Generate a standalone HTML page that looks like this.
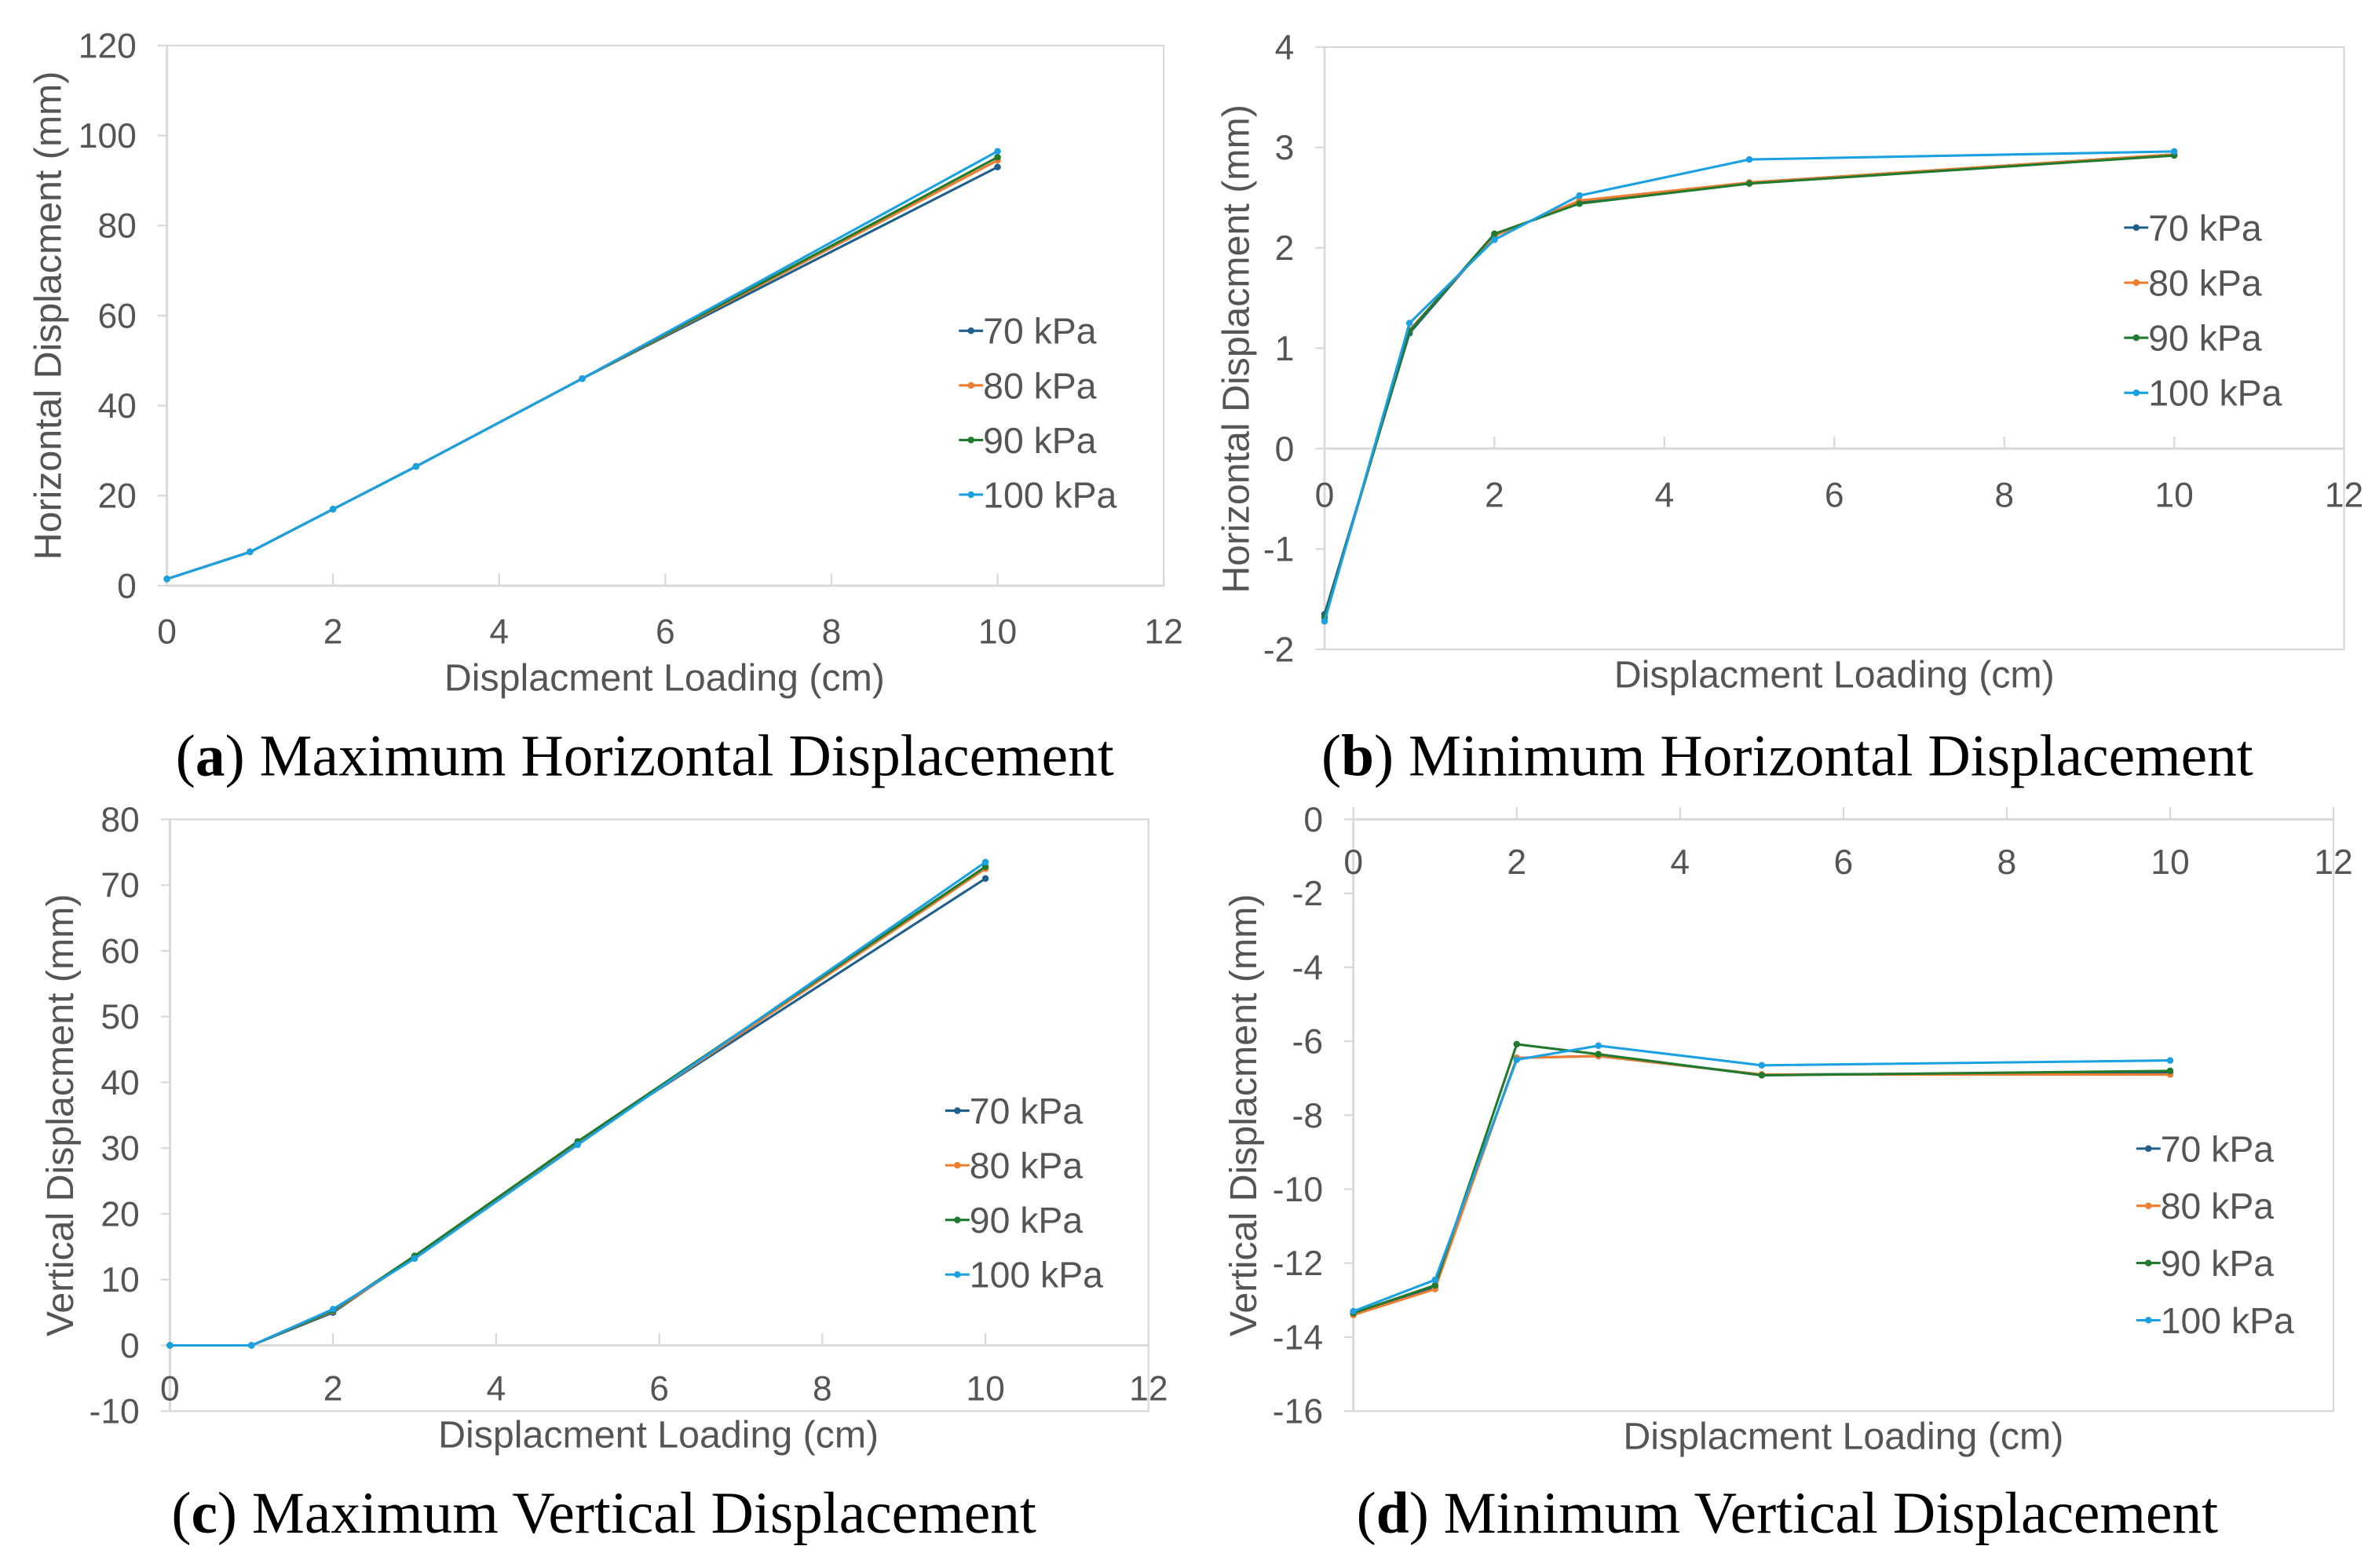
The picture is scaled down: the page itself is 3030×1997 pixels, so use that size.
<!DOCTYPE html>
<html><head><meta charset="utf-8"><style>
html,body{margin:0;padding:0;background:#fff}
svg{display:block}
.tk{font-family:"Liberation Sans",sans-serif;font-size:23px;fill:#555}
.at{font-family:"Liberation Sans",sans-serif;font-size:25px;fill:#555}
.lg{font-family:"Liberation Sans",sans-serif;font-size:24px;fill:#555}
.cap{font-family:"Liberation Serif",serif;font-size:39px;fill:#000}
</style></head><body>
<svg id="fig" width="3030" height="1997" viewBox="0 0 1568 1033.4" preserveAspectRatio="none" xmlns="http://www.w3.org/2000/svg"></svg>
<script>
const xValues=[0,1,2,3,5,10];
const seriesNames=["70 kPa","80 kPa","90 kPa","100 kPa"];
const colors=["#1f5f8b","#ed7d31","#217a2e","#1ba1e2"];
const aVals70=[1.5,7.5,17,26.5,46,93];
const aVals80=[1.5,7.5,17,26.5,46,94.5];
const aVals90=[1.5,7.5,17,26.5,46,95.2];
const aVals100=[1.5,7.5,17,26.5,46,96.5];
const bVals70=[-1.65,1.15,2.13,2.45,2.65,2.93];
const bVals80=[-1.7,1.18,2.12,2.47,2.65,2.93];
const bVals90=[-1.68,1.17,2.14,2.44,2.64,2.92];
const bVals100=[-1.72,1.25,2.08,2.52,2.88,2.96];
const cVals70=[0,0,5,13.5,31,71];
const cVals80=[0,0,5.2,13.3,30.7,72.5];
const cVals90=[0,0,5.3,13.6,31,72.8];
const cVals100=[0,0,5.5,13.2,30.5,73.5];
const dVals70=[-13.35,-12.65,-6.45,-6.4,-6.9,-6.85];
const dVals80=[-13.4,-12.7,-6.45,-6.4,-6.9,-6.9];
const dVals90=[-13.35,-12.6,-6.08,-6.35,-6.92,-6.8];
const dVals100=[-13.3,-12.45,-6.5,-6.12,-6.65,-6.52];
const xTicks=[0,2,4,6,8,10,12];
const aTicks=[0,20,40,60,80,100,120];
const bTicks=[-2,-1,0,1,2,3,4];
const cTicks=[-10,0,10,20,30,40,50,60,70,80];
const dTicks=[0,-2,-4,-6,-8,-10,-12,-14,-16];

const NS="http://www.w3.org/2000/svg";
const svg=document.getElementById('fig');
function mk(tag,attrs,parent,text){const e=document.createElementNS(NS,tag);for(const k in attrs)e.setAttribute(k,attrs[k]);if(text!==undefined)e.textContent=text;(parent||svg).appendChild(e);return e;}

const charts=[
 {id:'a',x0:110,x1:767,yt:30,yb:386,ymin:0,ymax:120,yticks:aTicks,data:[aVals70,aVals80,aVals90,aVals100],xlabY:416,xtitle:[438,447],ytitle:[32,208,"Horizontal Displacment (mm)"],leg:[632,218,36],cap:[425,498,"a","Maximum Horizontal Displacement"]},
 {id:'b',x0:873,x1:1545,yt:31,yb:428,ymin:-2,ymax:4,yticks:bTicks,data:[bVals70,bVals80,bVals90,bVals100],xlabY:326,xtitle:[1209,445],ytitle:[815,230,"Horizontal Displacment (mm)"],leg:[1400,150,36.3],cap:[1178,498,"b","Minimum Horizontal Displacement"]},
 {id:'c',x0:112,x1:757,yt:540,yb:930,ymin:-10,ymax:80,yticks:cTicks,data:[cVals70,cVals80,cVals90,cVals100],xlabY:915,xtitle:[434,946],ytitle:[40,735,"Vertical Displacment (mm)"],leg:[623,732,36],cap:[398,997,"c","Maximum Vertical Displacement"]},
 {id:'d',x0:892,x1:1538,yt:540,yb:930,ymin:-16,ymax:0,yticks:dTicks,data:[dVals70,dVals80,dVals90,dVals100],xlabY:568,xtitle:[1215,947],ytitle:[820,735,"Vertical Displacment (mm)"],leg:[1408,757,37.7],cap:[1178,997,"d","Minimum Vertical Displacement"]}
];

charts.forEach(c=>{
 const g=mk('g',{});
 
 
 const sx=v=>c.x0+(v-0)/(12-0)*(c.x1-c.x0);
 const sy=v=>c.yb-(v-c.ymin)/(c.ymax-c.ymin)*(c.yb-c.yt);
 const zeroY=(c.ymin<0&&c.ymax>0)?sy(0):(c.ymax<=0?sy(0):c.yb);
 const r=mk('rect',{x:c.x0,y:c.yt,width:c.x1-c.x0,height:c.yb-c.yt,fill:'none',stroke:'#d9d9d9','stroke-width':1.2},g);
 
 const xa=mk('line',{x1:c.x0,x2:c.x1,y1:zeroY,y2:zeroY,stroke:'#d9d9d9','stroke-width':1.5},g);
 
 const ya=mk('line',{x1:c.x0,x2:c.x0,y1:c.yt,y2:c.yb,stroke:'#d9d9d9','stroke-width':1.5},g);
 
 xTicks.forEach(t=>{
  const tx=sx(t);
  mk('line',{x1:tx,x2:tx,y1:zeroY,y2:zeroY-8,stroke:'#d9d9d9','stroke-width':1.2},g);
  const tl=mk('text',{x:tx,y:c.xlabY+8,'text-anchor':'middle',class:'tk'},g,String(t));
  
 });
 c.yticks.forEach(t=>{
  const ty=sy(t);
  mk('line',{x1:c.x0-6,x2:c.x0,y1:ty,y2:ty,stroke:'#d9d9d9','stroke-width':1.2},g);
  const tl=mk('text',{x:c.x0-20,y:ty+8,'text-anchor':'end',class:'tk'},g,String(t));
  
 });
 const xt=mk('text',{x:c.xtitle[0],y:c.xtitle[1]+8,'text-anchor':'middle',class:'at'},g,"Displacment Loading  (cm)");
 
 const yt=mk('text',{x:0,y:0,'text-anchor':'middle',class:'at',transform:`translate(${c.ytitle[0]+8},${c.ytitle[1]}) rotate(-90)`},g,c.ytitle[2]);
 
 c.data.forEach((vals,i)=>{
  const pts=xValues.map((x,k)=>sx(x).toFixed(1)+','+sy(vals[k]).toFixed(1)).join(' ');
  const pl=mk('polyline',{points:pts,fill:'none',stroke:colors[i],'stroke-width':1.6},g);
  
  
  xValues.forEach((x,k)=>{
   const m=mk('circle',{cx:sx(x),cy:sy(vals[k]),r:2.2,fill:colors[i]},g);
   
  });
  const ly=c.leg[1]+i*c.leg[2];
  const lg=mk('g',{},g);
  
  
  mk('line',{x1:c.leg[0],x2:c.leg[0]+16,y1:ly,y2:ly,stroke:colors[i],'stroke-width':1.6},lg);
  mk('circle',{cx:c.leg[0]+8,cy:ly,r:2.2,fill:colors[i]},lg);
  mk('text',{x:c.leg[0]+16,y:ly+8.5,class:'lg'},lg,seriesNames[i]);
 });
 const cap=mk('text',{x:c.cap[0],y:c.cap[1]+13,'text-anchor':'middle',class:'cap'},g);
 
 mk('tspan',{},cap,'(');
 mk('tspan',{'font-weight':'bold'},cap,c.cap[2]);
 mk('tspan',{},cap,') '+c.cap[3]);
});
</script>
</body></html>
